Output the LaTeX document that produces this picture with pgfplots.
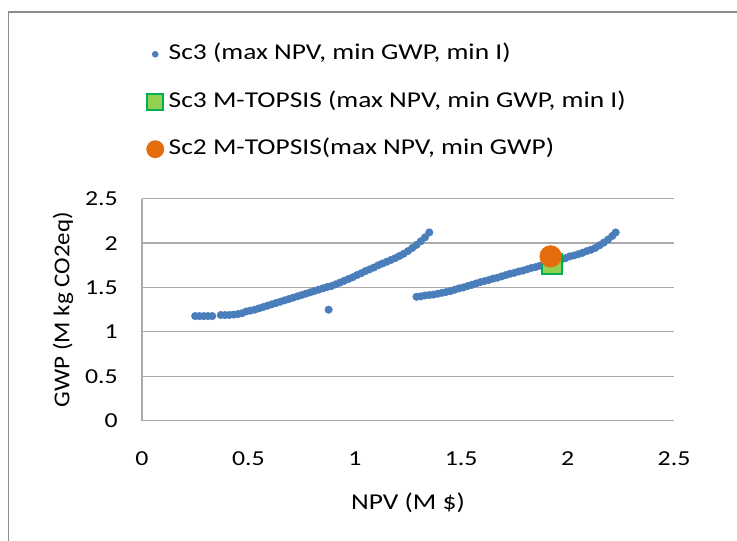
\documentclass[border=0pt]{standalone}
\usepackage{fontspec}
\setmainfont{Carlito}[FakeStretch=1.21]
\newfontfamily\ylabfont{Carlito}[FakeStretch=1.10]
\usepackage{pgfplots}
\pgfplotsset{compat=1.18}
\definecolor{dotblue}{HTML}{4A7EBB}
\definecolor{sqfill}{HTML}{92D050}
\definecolor{sqdraw}{HTML}{00B050}
\definecolor{orng}{HTML}{E46C0A}
\definecolor{gridgray}{HTML}{ABABAB}
\definecolor{framegray}{HTML}{8C8C8C}
\begin{document}
\begin{tikzpicture}
\useasboundingbox (0,0) rectangle (552.75pt,-405pt);
\draw[framegray, line width=1.2pt] (6.4pt,-410pt) -- (6.4pt,-9pt) -- (560pt,-9pt);
\begin{axis}[
  at={(106.5pt,-315.5pt)}, anchor=south west,
  scale only axis, width=399pt, height=166.5pt,
  xmin=0, xmax=2.5, ymin=0, ymax=2.5,
  xtick={0,0.5,...,2.5}, ytick={0,0.5,...,2.5},
  xticklabels={0,0.5,1,1.5,2,2.5},
  yticklabels={0,0.5,1,1.5,2,2.5},
  axis x line*=bottom, axis y line*=left,
  axis line style={gridgray, line width=0.9pt, -},
  ymajorgrids, grid style={gridgray, line width=0.9pt},
  major tick length=0pt,
  /pgf/number format/assume math mode=true,
  tick label style={font=\fontsize{16}{19}\selectfont, text=black},
  xticklabel style={anchor=north, inner sep=0pt, yshift=-23pt},
  yticklabel style={anchor=east, inner sep=0pt, xshift=-18pt},
  xlabel={NPV (M \$)},
  ylabel={GWP (M kg CO2eq)},
  xlabel style={font=\fontsize{17}{20}\selectfont, at={(axis description cs:0.5,-0.37)}, anchor=center},
  ylabel style={font=\ylabfont\fontsize{17}{20}\selectfont, at={(axis description cs:-0.1485,0.5)}, anchor=center},
  legend cell align=left,
  legend style={at={(axis description cs:0,1)}, anchor=north west,
    xshift=3.25pt, yshift=116.5pt, draw=none, fill=none, inner sep=0pt,
    row sep=19.6pt, font=\fontsize{17}{20}\selectfont,
    nodes={inner sep=0pt, text height=12pt, text depth=4pt},
    /tikz/every odd column/.append style={column sep=3pt}},
  legend image code/.code={\path[draw=none,fill=none] (0pt,0pt) (17pt,0pt); \draw[mark repeat=2,mark phase=2,#1] plot coordinates {(0pt,0pt) (8.1pt,0pt) (16.2pt,0pt)};},
  legend image post style={scale=0.8},
]
\addplot[only marks, mark=*, mark size=2.8pt, color=dotblue] coordinates {
(0.25,1.178)(0.27,1.178)(0.29,1.178)(0.31,1.178)(0.33,1.178)
(0.37,1.19)(0.39,1.19)(0.41,1.19)(0.43,1.195)(0.45,1.20)(0.47,1.21)
(0.49,1.23)(0.51,1.24)(0.53,1.25)(0.55,1.265)(0.57,1.28)(0.59,1.295)
(0.61,1.31)(0.63,1.325)(0.65,1.34)(0.67,1.355)(0.69,1.37)(0.71,1.385)
(0.73,1.40)(0.75,1.415)(0.77,1.43)(0.79,1.445)(0.81,1.46)(0.83,1.475)
(0.85,1.49)(0.87,1.505)(0.89,1.516)(0.91,1.535)(0.93,1.555)(0.95,1.575)
(0.97,1.595)(0.99,1.615)(1.01,1.64)(1.03,1.66)(1.05,1.685)(1.07,1.705)
(1.09,1.725)(1.11,1.75)(1.13,1.77)(1.15,1.79)(1.17,1.81)(1.19,1.83)
(1.21,1.855)(1.23,1.88)(1.25,1.91)(1.27,1.945)(1.29,1.98)(1.31,2.02)
(1.33,2.065)(1.35,2.12)
(0.877,1.25)
(1.29,1.395)(1.31,1.40)(1.33,1.41)(1.35,1.415)(1.37,1.42)(1.39,1.43)
(1.41,1.44)(1.43,1.45)(1.45,1.46)(1.47,1.475)(1.49,1.49)(1.51,1.50)
(1.53,1.516)(1.55,1.53)(1.57,1.545)(1.59,1.56)(1.61,1.572)(1.63,1.585)
(1.65,1.60)(1.67,1.61)(1.69,1.625)(1.71,1.64)(1.73,1.655)(1.75,1.665)
(1.77,1.68)(1.79,1.69)(1.81,1.705)(1.83,1.72)(1.85,1.73)(1.87,1.745)
(1.89,1.76)(1.91,1.775)(1.93,1.785)(1.95,1.80)(1.97,1.815)(1.99,1.83)
(2.01,1.85)(2.03,1.86)(2.05,1.875)(2.07,1.89)(2.09,1.91)(2.11,1.925)
(2.13,1.945)(2.15,1.975)(2.17,2.005)(2.19,2.04)(2.21,2.08)(2.226,2.12)
};
\addlegendentry{Sc3 (max NPV, min GWP, min I)}
\addplot[only marks, mark=square*, mark size=7.6pt, mark options={fill=sqfill, draw=sqdraw, line width=1.5pt}] coordinates {(1.926,1.768)};
\addlegendentry{Sc3 M-TOPSIS (max NPV, min GWP, min I)}
\addplot[only marks, mark=*, mark size=8.1pt, mark options={fill=orng, draw=orng}] coordinates {(1.92,1.85)};
\addlegendentry{Sc2 M-TOPSIS(max NPV, min GWP)}
\end{axis}
\end{tikzpicture}
\end{document}
